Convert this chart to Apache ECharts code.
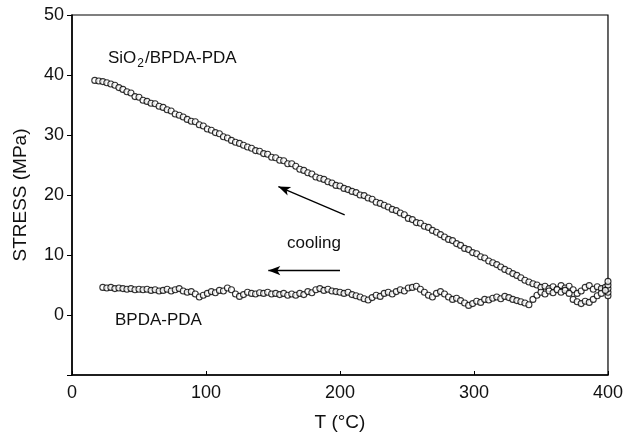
<!DOCTYPE html>
<html>
<head>
<meta charset="utf-8">
<script src="https://cdn.jsdelivr.net/npm/echarts@6/dist/echarts.min.js"></script>
<style>
html, body { margin: 0; padding: 0; background: #fff; }
#chart { width: 626px; height: 437px; }
</style>
</head>
<body>
<div id="chart"></div>
<script>
// SiO2/BPDA-PDA film, cooling run
var tempSiO2 = [17, 20, 23, 26, 29, 32, 35, 38, 41, 44, 47, 50, 53, 56, 59, 62, 65, 68, 71, 74,
  77, 80, 83, 86, 89, 92, 95, 98, 101, 104, 107, 110, 113, 116, 119, 122, 125, 128, 131, 134,
  137, 140, 143, 146, 149, 152, 155, 158, 161, 164, 167, 170, 173, 176, 179, 182, 185, 188, 191, 194,
  197, 200, 203, 206, 209, 212, 215, 218, 221, 224, 227, 230, 233, 236, 239, 242, 245, 248, 251, 254,
  257, 260, 263, 266, 269, 272, 275, 278, 281, 284, 287, 290, 293, 296, 299, 302, 305, 308, 311, 314,
  317, 320, 323, 326, 329, 332, 335, 338, 341, 344, 347, 350, 353, 356, 359, 362, 365, 368, 371, 374,
  377, 380, 383, 386, 389, 392, 395, 398, 400, 400, 400, 400, 400];
var stressSiO2 = [39.1, 39.0, 38.9, 38.7, 38.5, 38.3, 37.9, 37.6, 37.2, 37.0, 36.4, 36.3, 35.8, 35.6, 35.3, 35.2, 34.8, 34.6, 34.2, 34.0,
  33.5, 33.3, 33.0, 32.6, 32.3, 32.2, 31.7, 31.5, 31.0, 30.8, 30.4, 30.2, 29.7, 29.5, 29.1, 28.8, 28.6, 28.3, 28.0, 27.8,
  27.4, 27.3, 26.9, 26.8, 26.3, 26.2, 25.8, 25.7, 25.2, 25.2, 24.8, 24.3, 24.1, 23.7, 23.5, 23.0, 22.8, 22.6, 22.2, 22.0,
  21.6, 21.5, 21.1, 20.9, 20.6, 20.4, 20.0, 19.9, 19.5, 19.3, 18.8, 18.6, 18.3, 18.0, 17.6, 17.4, 17.0, 16.7, 16.1, 15.9,
  15.4, 15.3, 14.8, 14.6, 14.1, 13.8, 13.4, 13.0, 12.6, 12.4, 11.9, 11.6, 11.1, 10.9, 10.4, 10.2, 9.7, 9.5, 9.0, 8.7,
  8.4, 8.0, 7.6, 7.3, 6.9, 6.6, 6.2, 5.8, 5.5, 5.2, 5.0, 4.6, 4.8, 4.4, 4.7, 4.3, 4.9, 4.5, 4.8, 4.2,
  3.6, 4.0, 4.6, 4.9, 4.3, 4.7, 4.4, 4.6, 3.2, 3.8, 4.4, 5.0, 5.6];

// BPDA-PDA film, cooling run
var tempBPDA = [23, 26, 29, 32, 35, 38, 41, 44, 47, 50, 53, 56, 59, 62, 65, 68, 71, 74, 77, 80,
  83, 86, 89, 92, 95, 98, 101, 104, 107, 110, 113, 116, 119, 122, 125, 128, 131, 134, 137, 140,
  143, 146, 149, 152, 155, 158, 161, 164, 167, 170, 173, 176, 179, 182, 185, 188, 191, 194, 197, 200,
  203, 206, 209, 212, 215, 218, 221, 224, 227, 230, 233, 236, 239, 242, 245, 248, 251, 254, 257, 260,
  263, 266, 269, 272, 275, 278, 281, 284, 287, 290, 293, 296, 299, 302, 305, 308, 311, 314, 317, 320,
  323, 326, 329, 332, 335, 338, 341, 344, 347, 350, 353, 356, 359, 362, 365, 368, 371, 374, 377, 380,
  383, 386, 389, 392, 395, 398];
var stressBPDA = [4.6, 4.5, 4.6, 4.4, 4.5, 4.4, 4.3, 4.4, 4.2, 4.3, 4.2, 4.3, 4.1, 4.2, 4.0, 4.1, 4.3, 4.0, 4.2, 4.4,
  4.0, 3.8, 3.9, 3.5, 3.0, 3.3, 3.6, 3.9, 3.7, 4.1, 4.0, 4.5, 4.2, 3.5, 3.1, 3.4, 3.8, 3.6, 3.5, 3.7,
  3.6, 3.8, 3.5, 3.6, 3.4, 3.6, 3.3, 3.5, 3.3, 3.6, 3.4, 3.9, 3.7, 4.2, 4.4, 4.1, 4.3, 4.0, 3.9, 3.8,
  3.6, 3.8, 3.4, 3.2, 3.0, 2.7, 2.5, 2.9, 3.3, 3.1, 3.6, 3.8, 3.5, 3.9, 4.2, 4.0, 4.5, 4.6, 4.8, 4.3,
  3.8, 3.3, 3.0, 3.6, 3.9, 3.5, 3.0, 2.6, 2.8, 2.4, 2.0, 1.6, 1.9, 2.3, 2.1, 2.6, 2.5, 2.8, 3.0, 2.7,
  3.1, 2.9, 2.6, 2.4, 2.2, 2.0, 1.7, 2.6, 3.3, 3.8, 3.5, 4.0, 3.7, 4.2, 3.8, 4.1, 3.6, 2.6, 2.2, 1.9,
  2.3, 2.1, 2.6, 3.2, 3.6, 4.1];

var xTicks = [0, 100, 200, 300, 400];
var yTicks = [0, 10, 20, 30, 40, 50];

var FONT = 'Liberation Sans, Arial, Helvetica, sans-serif';
var INK = '#111';

function pairs(xs, ys) {
  var out = [];
  for (var i = 0; i < xs.length; i++) out.push([xs[i], ys[i]]);
  return out;
}

var chart = echarts.init(document.getElementById('chart'), null, {renderer: 'canvas'});

var markerStyle = {color: '#fff', borderColor: '#000', borderWidth: 1.1};

var option = {
  animation: false,
  backgroundColor: '#fff',
  grid: {left: 72, right: 13, top: 15, bottom: 55, show: true, borderColor: '#000', borderWidth: 1.2, backgroundColor: 'transparent'},
  xAxis: {
    type: 'value', min: 0, max: 400, interval: 100,
    name: 'T (\u00b0C)', nameLocation: 'middle', nameGap: 38,
    nameTextStyle: {fontFamily: FONT, fontSize: 19, color: INK},
    axisLine: {onZero: false, lineStyle: {color: '#000', width: 1.5}},
    axisTick: {inside: true, length: 4, lineStyle: {color: '#000'}},
    axisLabel: {fontFamily: FONT, fontSize: 18, color: INK, margin: 9,
      formatter: function (v) { return xTicks.indexOf(v) >= 0 ? String(v) : ''; }},
    splitLine: {show: false}
  },
  yAxis: {
    type: 'value', min: -10, max: 50, interval: 10,
    name: 'STRESS (MPa)', nameLocation: 'middle', nameGap: 42,
    nameTextStyle: {fontFamily: FONT, fontSize: 19, color: INK},
    axisLine: {onZero: false, lineStyle: {color: '#000', width: 1.5}},
    axisTick: {inside: false, length: 5, lineStyle: {color: '#000'}},
    axisLabel: {fontFamily: FONT, fontSize: 18, color: INK, margin: 8,
      formatter: function (v) { return yTicks.indexOf(v) >= 0 ? String(v) : ''; }},
    splitLine: {show: false}
  },
  series: [
    {
      name: 'SiO2/BPDA-PDA', type: 'scatter', symbol: 'circle', symbolSize: 6,
      itemStyle: markerStyle,
      data: pairs(tempSiO2, stressSiO2),
      markLine: {
        silent: true, symbol: ['none', 'arrow'], symbolSize: [7, 12],
        label: {show: false},
        lineStyle: {color: '#000', width: 1.3, type: 'solid'},
        data: [
          [{coord: [203.5, 16.7]}, {coord: [154, 21.4]}],
          [{coord: [200, 7.4]}, {coord: [146.5, 7.4]}]
        ]
      }
    },
    {
      name: 'BPDA-PDA', type: 'scatter', symbol: 'circle', symbolSize: 6,
      itemStyle: markerStyle,
      data: pairs(tempBPDA, stressBPDA)
    }
  ],
  graphic: [
    {type: 'text', left: 108, top: 50, style: {
      text: '{a|SiO}{s|2}{a|/BPDA-PDA}', fill: INK,
      rich: {
        a: {fontFamily: FONT, fontSize: 17, fill: INK},
        s: {fontFamily: FONT, fontSize: 12, fill: INK, padding: [10, 1, 0, 1]}
      }
    }},
    {type: 'text', left: 115, top: 312, style: {text: 'BPDA-PDA', font: '17px ' + FONT, fill: INK}},
    {type: 'text', left: 287, top: 235, style: {text: 'cooling', font: '17px ' + FONT, fill: INK}}
  ]
};

chart.setOption(option);
</script>
</body>
</html>
